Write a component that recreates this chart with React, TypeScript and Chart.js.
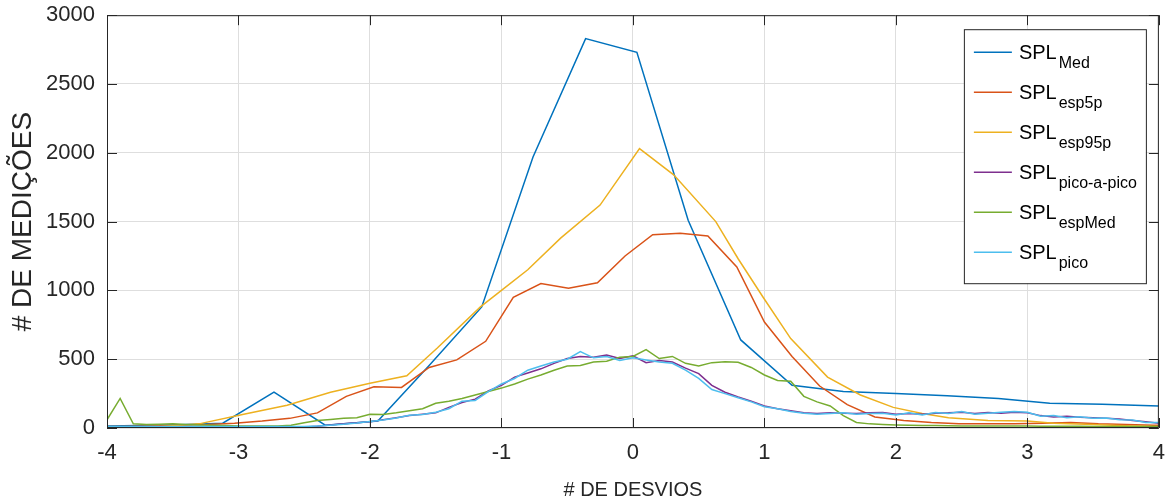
import React, { useEffect, useRef } from "react";
import { Chart, registerables } from "chart.js";

Chart.register(...registerables);

// ---- data -------------------------------------------------------------
// SPL_Med histogram (coarse bins)
const xMed = [-4.0, -3.51, -3.12, -2.73, -2.34, -1.94, -1.55, -1.15, -0.76, -0.36, 0.03, 0.42, 0.82, 1.21, 1.6, 2.0, 2.39, 2.78, 3.17, 3.57, 4.0];
const med = [15, 22, 35, 260, 20, 50, 455, 880, 1970, 2830, 2730, 1510, 640, 310, 265, 250, 235, 215, 180, 172, 160];

// SPL_esp5p histogram
const xEsp5p = [-4.0, -3.88, -3.67, -3.46, -3.24, -3.03, -2.82, -2.61, -2.4, -2.18, -1.97, -1.76, -1.55, -1.34, -1.12, -0.91, -0.7, -0.49, -0.27, -0.06, 0.15, 0.36, 0.57, 0.79, 1.0, 1.21, 1.42, 1.63, 1.84, 2.06, 2.27, 2.48, 2.69, 2.9, 3.12, 3.33, 3.54, 3.75, 3.96, 4.0];
const esp5p = [10, 10, 15, 20, 25, 35, 50, 70, 110, 230, 300, 295, 440, 495, 630, 950, 1050, 1015, 1055, 1250, 1405, 1415, 1395, 1170, 770, 520, 305, 170, 80, 55, 40, 30, 30, 30, 35, 40, 30, 25, 20, 20];

// SPL_esp95p histogram
const xEsp95p = [-4.0, -3.6, -3.3, -2.96, -2.63, -2.3, -2.0, -1.72, -1.49, -1.16, -1.0, -0.8, -0.55, -0.25, 0.05, 0.31, 0.63, 0.8, 0.99, 1.2, 1.48, 1.73, 1.98, 2.2, 2.4, 2.7, 3.0, 3.2, 3.5, 3.8, 4.0];
const esp95p = [5, 10, 30, 100, 165, 260, 325, 380, 580, 880, 1000, 1150, 1380, 1620, 2030, 1840, 1500, 1230, 950, 650, 370, 240, 150, 105, 75, 55, 50, 35, 25, 15, 10];

// fine bins shared by pico-a-pico, espMed and pico
const xFine = [
  -4.0, -3.9, -3.8, -3.7, -3.6, -3.5, -3.4, -3.3, -3.2, -3.1,
  -3.0, -2.9, -2.8, -2.7, -2.6, -2.5, -2.4, -2.3, -2.2, -2.1,
  -2.0, -1.9, -1.8, -1.7, -1.6, -1.5, -1.4, -1.3, -1.2, -1.1,
  -1.0, -0.9, -0.8, -0.7, -0.6, -0.5, -0.4, -0.3, -0.2, -0.1,
  0.0, 0.1, 0.2, 0.3, 0.4, 0.5, 0.6, 0.7, 0.8, 0.9,
  1.0, 1.1, 1.2, 1.3, 1.4, 1.5, 1.6, 1.7, 1.8, 1.9,
  2.0, 2.1, 2.2, 2.3, 2.4, 2.5, 2.6, 2.7, 2.8, 2.9,
  3.0, 3.1, 3.2, 3.3, 3.4, 3.5, 3.6, 3.7, 3.8, 3.9,
  4.0,
];

const picoAPico = [
  5, 5, 5, 5, 5, 5, 5, 5, 5, 5,
  5, 5, 5, 5, 5, 8, 12, 22, 30, 38,
  45, 60, 75, 90, 100, 110, 150, 185, 210, 270,
  310, 370, 400, 430, 470, 505, 520, 515, 530, 505,
  525, 475, 490, 480, 435, 395, 310, 260, 225, 195,
  160, 140, 125, 110, 105, 110, 108, 105, 110, 112,
  100, 105, 100, 108, 110, 115, 105, 112, 108, 115,
  110, 90, 80, 85, 78, 75, 70, 65, 55, 45,
  35,
];

const espMed = [
  60, 215, 30, 25, 28, 30, 25, 22, 20, 18,
  15, 15, 15, 15, 20, 38, 55, 62, 70, 75,
  100, 98, 110, 125, 140, 180, 195, 215, 240, 265,
  290, 320, 355, 385, 420, 450, 455, 480, 485, 515,
  520, 570, 505, 520, 470, 450, 475, 482, 478, 440,
  385, 345, 340, 230, 190, 160, 90, 40, 30, 25,
  22, 20, 18, 18, 16, 15, 15, 15, 14, 14,
  14, 12, 12, 12, 12, 10, 10, 10, 10, 10,
  10,
];

const pico = [
  10, 10, 10, 10, 10, 10, 10, 10, 10, 10,
  10, 10, 10, 10, 10, 10, 14, 20, 28, 36,
  48, 58, 72, 92, 98, 115, 140, 195, 200, 265,
  320, 360, 420, 450, 480, 500, 555, 510, 520, 490,
  510, 495, 480, 470, 420, 360, 280, 250, 220, 190,
  155, 140, 120, 108, 100, 105, 110, 100, 105, 108,
  95, 110, 95, 112, 105, 120, 100, 108, 115, 120,
  115, 85, 90, 75, 82, 70, 72, 60, 58, 40,
  40,
];

const seriesSubscripts = ["Med", "esp5p", "esp95p", "pico-a-pico", "espMed", "pico"];
const seriesColors = ["#0072BD", "#D95319", "#EDB120", "#7E2F8E", "#77AC30", "#4DBEEE"];

const xTickValues = [-4, -3, -2, -1, 0, 1, 2, 3, 4];
const yTickValues = [0, 500, 1000, 1500, 2000, 2500, 3000];

const FONT = '"Liberation Sans", Arial, Helvetica, sans-serif';
const INK = "#262626";

// the canvas is a little larger than the frame so the plot box sits flush
const CANVAS_W = 1177;
const CANVAS_H = 513;
const CANVAS_TOP = -10;

function toPoints(xs: number[], ys: number[]) {
  return xs.map((x, i) => ({ x, y: ys[i] }));
}

// axes box with inward tick marks on all four sides
const framePlugin = {
  id: "frame",
  afterDatasetsDraw(chart: any) {
    const { ctx, chartArea } = chart;
    const { left, right, top, bottom } = chartArea;
    const xs = chart.scales.x;
    const ys = chart.scales.y;
    const len = 10;
    ctx.save();
    ctx.strokeStyle = INK;
    ctx.lineWidth = 1;
    ctx.beginPath();
    ctx.rect(left + 0.5, top + 0.5, right - left - 1, bottom - top - 1);
    for (const v of xTickValues) {
      const px = Math.round(xs.getPixelForValue(v)) + 0.5;
      ctx.moveTo(px, bottom);
      ctx.lineTo(px, bottom - len);
      ctx.moveTo(px, top);
      ctx.lineTo(px, top + len);
    }
    for (const v of yTickValues) {
      const py = Math.round(ys.getPixelForValue(v)) + 0.5;
      ctx.moveTo(left, py);
      ctx.lineTo(left + len, py);
      ctx.moveTo(right, py);
      ctx.lineTo(right - len, py);
    }
    ctx.stroke();
    ctx.restore();
  },
};

// legend with subscripted series names
const legendPlugin = {
  id: "subLegend",
  afterDraw(chart: any) {
    const { ctx, chartArea } = chart;
    const bw = 182;
    const bh = 254;
    const bx = chartArea.right - 195;
    const by = chartArea.top + 14;
    ctx.save();
    ctx.fillStyle = "#ffffff";
    ctx.fillRect(bx, by, bw, bh);
    ctx.strokeStyle = INK;
    ctx.lineWidth = 1;
    ctx.strokeRect(bx + 0.5, by + 0.5, bw, bh);
    seriesSubscripts.forEach((sub, i) => {
      const ly = by + 23 + i * 40;
      ctx.strokeStyle = seriesColors[i];
      ctx.lineWidth = 1.5;
      ctx.beginPath();
      ctx.moveTo(bx + 10, ly);
      ctx.lineTo(bx + 48, ly);
      ctx.stroke();
      ctx.fillStyle = "#000000";
      ctx.textBaseline = "alphabetic";
      ctx.textAlign = "left";
      ctx.font = `20px ${FONT}`;
      ctx.fillText("SPL", bx + 55, ly + 7);
      const w = ctx.measureText("SPL").width;
      ctx.font = `16px ${FONT}`;
      ctx.fillText(sub, bx + 55 + w + 2, ly + 16);
    });
    ctx.restore();
  },
};

export default function App() {
  const canvasRef = useRef<HTMLCanvasElement | null>(null);

  useEffect(() => {
    const canvas = canvasRef.current;
    if (!canvas) return;

    const series = [
      toPoints(xMed, med),
      toPoints(xEsp5p, esp5p),
      toPoints(xEsp95p, esp95p),
      toPoints(xFine, picoAPico),
      toPoints(xFine, espMed),
      toPoints(xFine, pico),
    ];

    const chart = new Chart(canvas, {
      type: "line",
      data: {
        datasets: series.map((data, i) => ({
          label: "SPL" + seriesSubscripts[i],
          data,
          borderColor: seriesColors[i],
          backgroundColor: seriesColors[i],
          borderWidth: 1.5,
          pointRadius: 0,
          tension: 0,
          fill: false,
          order: series.length - i,
        })),
      },
      options: {
        responsive: false,
        animation: false,
        parsing: false,
        layout: { padding: { left: 0, right: 2, top: 2, bottom: 0 } },
        plugins: {
          legend: { display: false },
          tooltip: { enabled: false },
        },
        scales: {
          x: {
            type: "linear",
            min: -4,
            max: 4,
            afterBuildTicks(scale: any) {
              scale.ticks = xTickValues.map((v) => ({ value: v }));
            },
            ticks: {
              font: { family: FONT, size: 22 },
              color: INK,
              padding: 12,
              maxRotation: 0,
              callback: (v: any) => String(v),
            },
            grid: { color: "#dedede", lineWidth: 1, drawTicks: false },
            border: { display: false },
            title: {
              display: true,
              text: "# DE DESVIOS",
              font: { family: FONT, size: 20 },
              color: INK,
              padding: { top: 0, bottom: 1 },
            },
            afterFit(scale: any) {
              scale.height = 75;
            },
          },
          y: {
            type: "linear",
            min: 0,
            max: 3000,
            afterBuildTicks(scale: any) {
              scale.ticks = yTickValues.map((v) => ({ value: v }));
            },
            ticks: {
              font: { family: FONT, size: 22 },
              color: INK,
              padding: 12,
              callback: (v: any) => String(v),
            },
            grid: { color: "#dedede", lineWidth: 1, drawTicks: false },
            border: { display: false },
            title: {
              display: true,
              text: "# DE MEDIÇÕES",
              font: { family: FONT, size: 28 },
              color: INK,
              padding: { top: 6, bottom: 0 },
            },
            afterFit(scale: any) {
              scale.width = 107;
            },
          },
        },
      },
      plugins: [framePlugin, legendPlugin],
    });

    return () => chart.destroy();
  }, []);

  return (
    <div
      style={{
        position: "absolute",
        left: 0,
        top: 0,
        width: 1166,
        height: 503,
        overflow: "hidden",
        background: "#ffffff",
      }}
    >
      <canvas
        ref={canvasRef}
        width={CANVAS_W}
        height={CANVAS_H}
        style={{ position: "absolute", left: 0, top: CANVAS_TOP, display: "block" }}
      />
    </div>
  );
}
